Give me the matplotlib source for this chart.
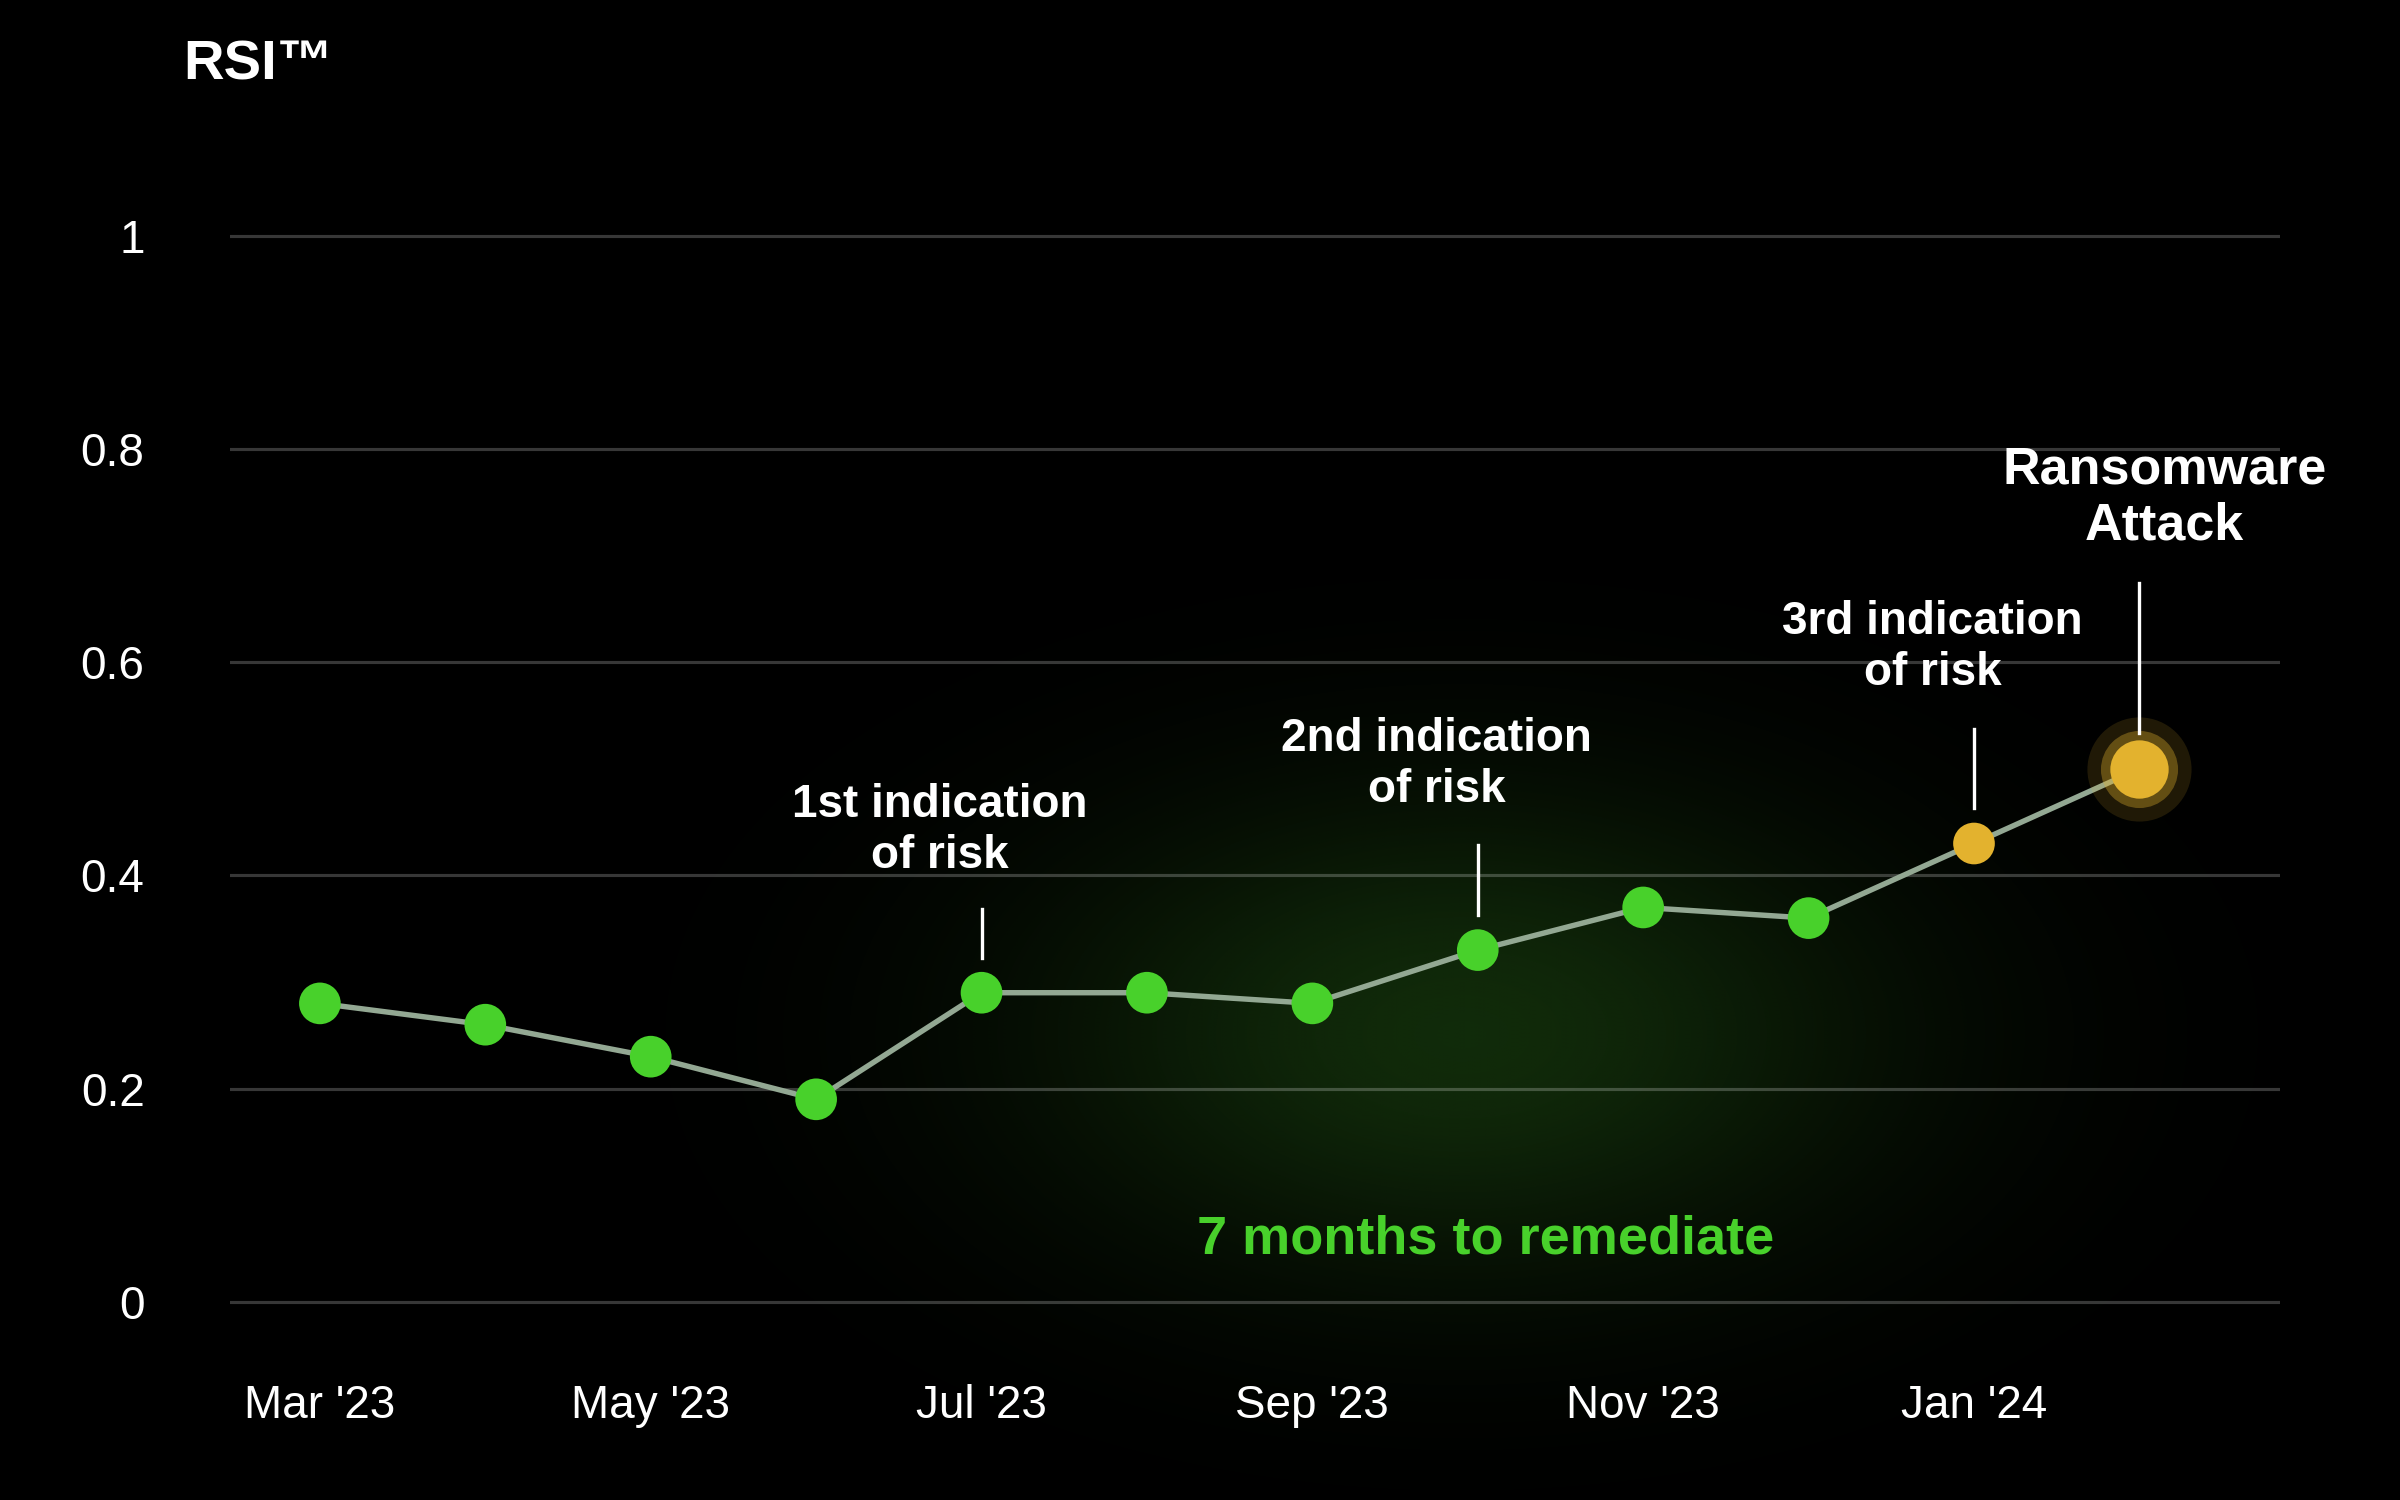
import numpy as np
import matplotlib
matplotlib.use("Agg")
import matplotlib.pyplot as plt

plt.rcParams['font.family'] = ['Liberation Sans', 'DejaVu Sans']

# data
months = ["Mar '23", "Apr '23", "May '23", "Jun '23", "Jul '23", "Aug '23",
          "Sep '23", "Oct '23", "Nov '23", "Dec '23", "Jan '24", "Feb '24"]
rsi = [0.28, 0.26, 0.23, 0.19, 0.29, 0.29, 0.28, 0.33, 0.37, 0.36, 0.43, 0.50]
tick_labels = ["Mar '23", "May '23", "Jul '23", "Sep '23", "Nov '23", "Jan '24"]
y_ticks = [0, 0.2, 0.4, 0.6, 0.8, 1]
y_tick_labels = ["0", "0.2", "0.4", "0.6", "0.8", "1"]

# (month index, label, tick top offset, label offset)
notes = [
    (4, "1st indication\nof risk", 0.079, 0.152),
    (7, "2nd indication\nof risk", 0.099, 0.174),
    (10, "3rd indication\nof risk", 0.107, 0.184),
]
attack_idx = 11

BG = "black"
GREEN = "#48d12b"
YELLOW = "#e3b22e"
LINE = "#93a893"

fig = plt.figure(figsize=(16, 10), dpi=150, facecolor=BG)
ax = fig.add_axes([0.0958, 0.0966, 0.8542, 0.7816])
ax.set_facecolor(BG)
x = np.arange(len(months))

# soft green glow behind the middle of the chart
ext = (-1.5, 14.0, -0.3, 1.2)
gx = np.linspace(ext[0], ext[1], 500)
gy = np.linspace(ext[2], ext[3], 400)
GX, GY = np.meshgrid(gx, gy)
g = np.exp(-(((GX - 6.9) / 1.8) ** 2 + ((GY - 0.25) / 0.16) ** 2) / 2)
glow = np.zeros(GX.shape + (4,))
glow[..., 0] = 0.08
glow[..., 1] = 0.20
glow[..., 2] = 0.05
glow[..., 3] = g * 0.85
ax.imshow(glow, extent=ext, origin='lower', aspect='auto', zorder=0,
          interpolation='bilinear', clip_on=False)
ax.set_xlim(-0.544, 11.85)
ax.set_ylim(-0.05, 1.05)

for yv in y_ticks:
    ax.axhline(yv, color="white", alpha=0.22, lw=1.5, zorder=1)

ax.plot(x, rsi, color=LINE, lw=2.6, zorder=2)
colors = [GREEN] * 10 + [YELLOW]
ax.scatter(x[:11], rsi[:11], s=20 ** 2, c=colors, zorder=3, linewidths=0)
# the attack point with a halo
ax.scatter([x[attack_idx]], [rsi[attack_idx]], s=50 ** 2, color=YELLOW, alpha=0.14, zorder=3, linewidths=0)
ax.scatter([x[attack_idx]], [rsi[attack_idx]], s=37 ** 2, color=YELLOW, alpha=0.35, zorder=3, linewidths=0)
ax.scatter([x[attack_idx]], [rsi[attack_idx]], s=28 ** 2, color=YELLOW, zorder=4, linewidths=0)

for i, label, top, off in notes:
    ax.plot([x[i], x[i]], [rsi[i] + 0.033, rsi[i] + top], color="white", lw=1.6, zorder=4)
    ax.text(x[i] - 0.25, rsi[i] + off, label, color="white", fontsize=22, fontweight='bold',
            ha='center', va='center', linespacing=1.2, zorder=5)
ax.plot([x[attack_idx]] * 2, [rsi[attack_idx] + 0.034, rsi[attack_idx] + 0.174],
        color="white", lw=1.6, zorder=4)
ax.text(x[attack_idx] + 0.15, rsi[attack_idx] + 0.254, "Ransomware\nAttack", color="white",
        fontsize=25, fontweight='bold', ha='center', va='center', linespacing=1.2, zorder=5)

ax.text(7.05, 0.058, "7 months to remediate", color=GREEN, fontsize=26, fontweight='bold',
        ha='center', va='center', zorder=5)

ax.set_xticks(x[::2])
ax.set_xticklabels(tick_labels)
ax.set_yticks(y_ticks)
ax.set_yticklabels(y_tick_labels)
ax.tick_params(axis='x', length=0, pad=14, labelsize=22, labelcolor="white")
ax.tick_params(axis='y', length=0, pad=41, labelsize=22, labelcolor="white")
for s in ax.spines.values():
    s.set_visible(False)

fig.text(183 / 2400, 1 - 80 / 1500, "RSI™", color="white", fontsize=27, fontweight='bold',
         ha='left', va='baseline')

fig.savefig("out.png", dpi=150, facecolor=BG)
